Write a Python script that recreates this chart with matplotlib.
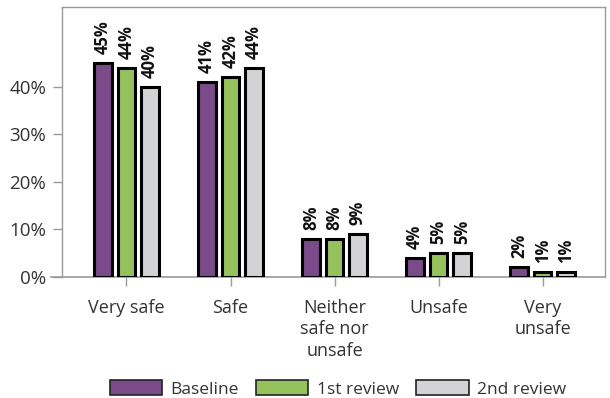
import matplotlib
matplotlib.use("Agg")
import matplotlib.pyplot as plt
import numpy as np

categories = ["Very safe", "Safe", "Neither\nsafe nor\nunsafe", "Unsafe", "Very\nunsafe"]
series_names = ["Baseline", "1st review", "2nd review"]
baseline = [45, 41, 8, 4, 2]
review1 = [44, 42, 8, 5, 1]
review2 = [40, 44, 9, 5, 1]
yticks = [0, 10, 20, 30, 40]
colors = ["#7B4A89", "#96C25E", "#D3D3D6"]

plt.rcParams['font.family'] = ['Open Sans', 'DejaVu Sans']

fig = plt.figure(figsize=(6.10, 3.98), dpi=100)
ax = fig.add_axes([62/610, 1 - 277/398, (605 - 62)/610, (277 - 7)/398])

x = np.arange(len(categories))
width = 0.17
offsets = [-0.225, 0, 0.225]
for vals, name, col, off in zip([baseline, review1, review2], series_names, colors, offsets):
    bars = ax.bar(x + off, vals, width, color=col, edgecolor="black", linewidth=2.2, label=name, zorder=3)
    for b, v in zip(bars, vals):
        ax.text(b.get_x() + b.get_width()/2, v + 1.9, f"{v}%", rotation=90, ha="center", va="bottom",
                fontsize=12, fontweight="bold", color="#111111")

ax.set_xlim(-0.62, 4.6)
ax.set_ylim(0, 56.8)
ax.set_yticks(yticks)
ax.set_yticklabels([f"{t}%" for t in yticks], fontsize=13.5, color="#333333")
ax.set_xticks(x)
ax.set_xticklabels(categories, fontsize=13, color="#333333", linespacing=1.25)
ax.tick_params(axis="both", colors="#999999", length=6.5, width=1, labelcolor="#333333")
ax.tick_params(axis="x", pad=9)
ax.tick_params(axis="y", pad=5)
for s in ax.spines.values():
    s.set_color("#999999")
    s.set_linewidth(1)
ax.spines["bottom"].set_visible(False)
ax.axhline(0, color="#999999", linewidth=1.2, zorder=2, xmin=-0.02, clip_on=False)

leg = fig.legend(loc="center", bbox_to_anchor=(338/610, 1 - 389/398), ncol=3, frameon=False,
                 fontsize=12.5, handlelength=3.0, handleheight=0.9, columnspacing=1.0, handletextpad=0.5)
for t in leg.get_texts():
    t.set_color("#333333")
for p in leg.get_patches():
    p.set_linewidth(1.2)
    p.set_edgecolor("#222222")

fig.savefig("out.png", dpi=100)
